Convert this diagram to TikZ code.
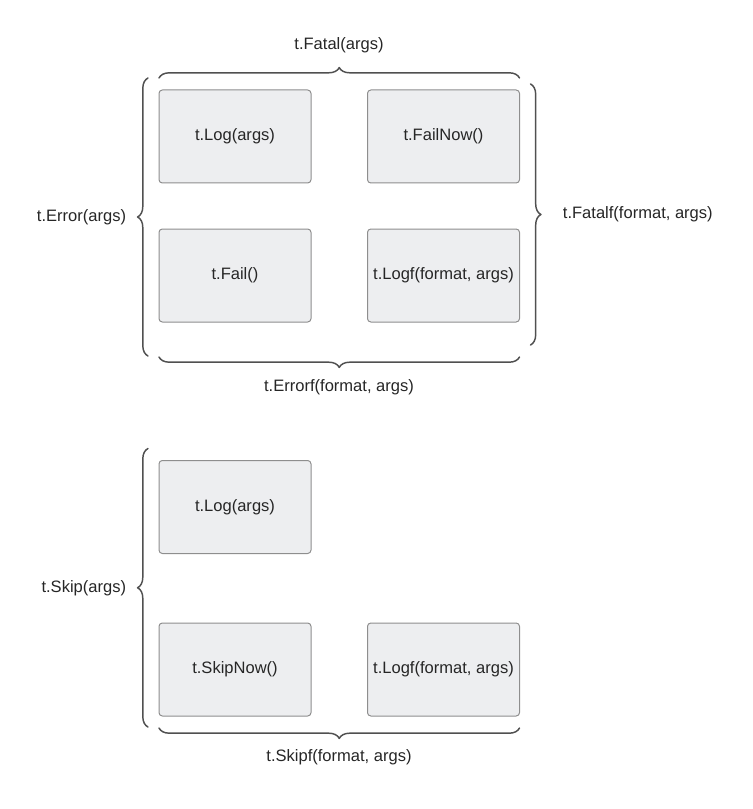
\documentclass[tikz,border=0pt]{standalone}
\usepackage{fontspec}
\setmainfont{Liberation Sans}
\usepackage{xcolor}
\usetikzlibrary{calc,decorations.pathreplacing}
\definecolor{BoxFill}{HTML}{EDEEF0}
\definecolor{BoxLine}{HTML}{8E8E8E}
\definecolor{BraceLine}{HTML}{505050}
\definecolor{TextColor}{HTML}{262626}
\newcommand{\LabelFont}{\fontsize{12.4}{15}\selectfont}

\begin{document}
\begin{tikzpicture}[line cap=round,line join=round,x=0.75pt,y=-0.75pt,
    call/.style={draw=BoxLine,fill=BoxFill,line width=0.75pt,rounded corners=2.5pt,
      minimum width=114pt,minimum height=69.75pt,inner sep=0pt,outer sep=0pt,
      text=TextColor,font=\LabelFont},
    bracelabel/.style={text=TextColor,font=\LabelFont,inner sep=2pt},
    curly/.style={draw=BraceLine,line width=1.1pt,decorate,
      decoration={brace,amplitude=7.8pt}}]
  \useasboundingbox (0,0) rectangle (752,809);
  % upper group: Error / Fatal
  \node[call] (errlog) at (235,136.5) {t.Log(args)};
  \node[call] (errfailnow) at (443.5,136.5) {t.FailNow()};
  \node[call] (errfail) at (235,275.5) {t.Fail()};
  \node[call] (errlogf) at (443.5,275.5) {t.Logf(format, args)};
  \coordinate (fataltopl) at ($(errlog.north west)+(0,-12)$);
  \coordinate (fataltopr) at ($(errfailnow.north east)+(0,-12)$);
  \coordinate (errorfl) at ($(errfail.south west)+(0,35)$);
  \coordinate (errorfr) at ($(errlogf.south east)+(0,35)$);
  \coordinate (errortop) at ($(errlog.north west)+(-11,-12)$);
  \coordinate (errorbot) at ($(errfail.south west)+(-11,34)$);
  \coordinate (fatalftop) at ($(errfailnow.north east)+(11,-6)$);
  \coordinate (fatalfbot) at ($(errlogf.south east)+(11,23)$);
  \draw[curly] (fataltopl) -- (fataltopr);
  \draw[curly] (errorfr) -- (errorfl);
  \draw[curly] (errorbot) -- (errortop);
  \draw[curly] (fatalftop) -- (fatalfbot);
  \node[bracelabel] (fatal) at (339,45) {t.Fatal(args)};
  \node[bracelabel] (errorf) at (339,387) {t.Errorf(format, args)};
  \node[bracelabel,anchor=east] (error) at (129,217) {t.Error(args)};
  \node[bracelabel,anchor=west] (fatalf) at (560,214) {t.Fatalf(format, args)};
  % lower group: Skip
  \node[call] (skiplog) at (235,507) {t.Log(args)};
  \node[call] (skipnow) at (235,669.5) {t.SkipNow()};
  \node[call] (skiplogf) at (443.5,669.5) {t.Logf(format, args)};
  \coordinate (skiptop) at ($(skiplog.north west)+(-11,-12)$);
  \coordinate (skipbot) at ($(skipnow.south west)+(-11,11)$);
  \coordinate (skipfl) at ($(skipnow.south west)+(0,12)$);
  \coordinate (skipfr) at ($(skiplogf.south east)+(0,12)$);
  \draw[curly] (skipbot) -- (skiptop);
  \draw[curly] (skipfr) -- (skipfl);
  \node[bracelabel,anchor=east] (skip) at (129,588) {t.Skip(args)};
  \node[bracelabel] (skipf) at (339,757) {t.Skipf(format, args)};
\end{tikzpicture}
\end{document}
